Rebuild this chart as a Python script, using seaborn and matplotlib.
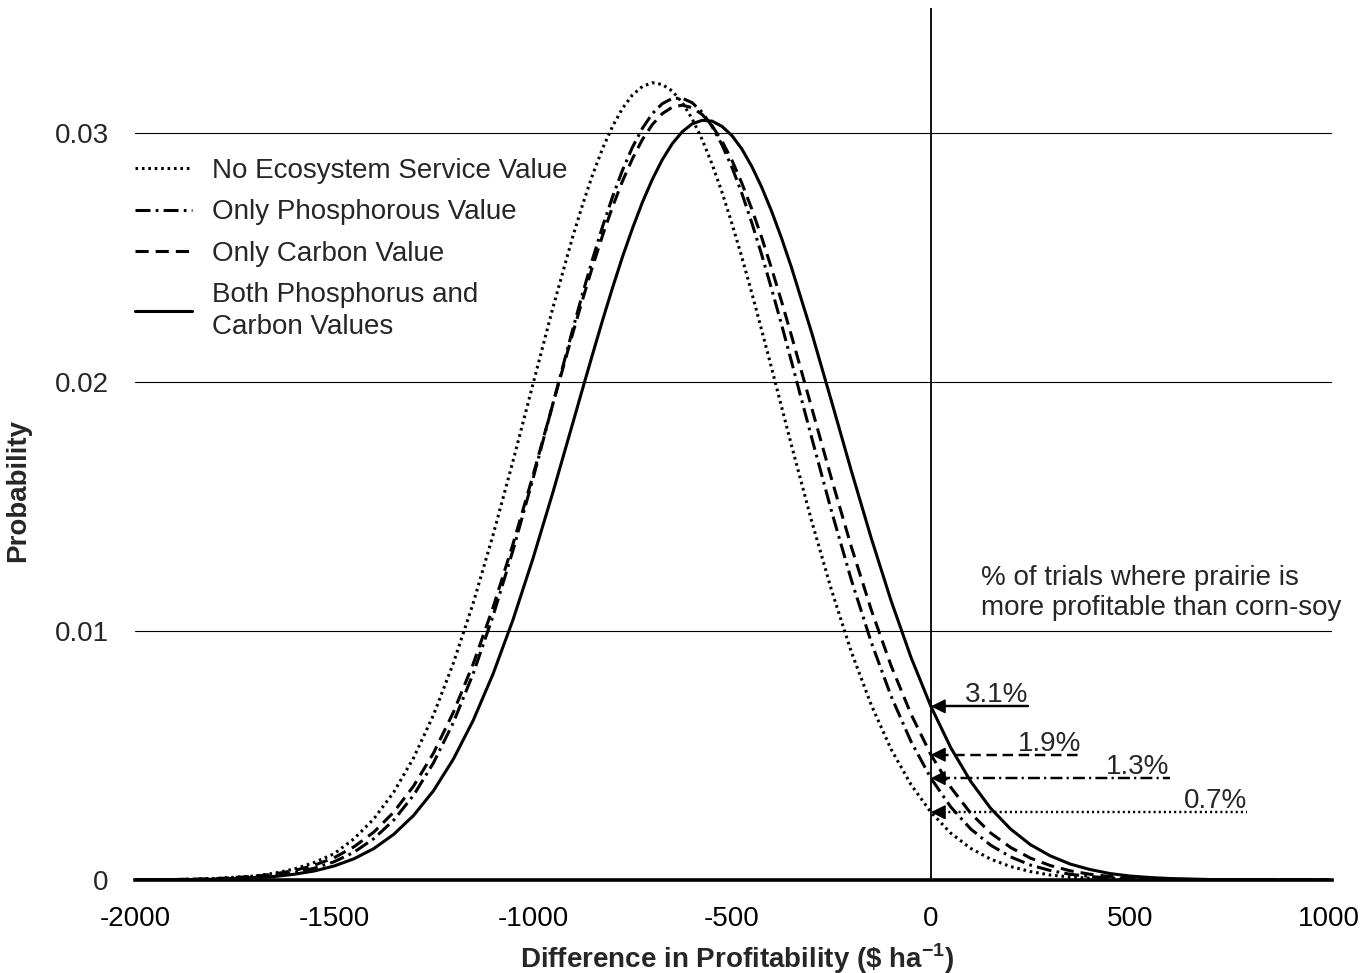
import numpy as np
import pandas as pd
import matplotlib
matplotlib.use("Agg")
import matplotlib.pyplot as plt
import seaborn as sns

# values
profit_diff = [-2000, -1900, -1800, -1700, -1650, -1600, -1550, -1500, -1450, -1400,
               -1350, -1300, -1250, -1200, -1150, -1100, -1050, -1000, -950, -900,
               -875, -850, -825, -800, -775, -750, -725, -700, -675, -650,
               -625, -600, -575, -550, -525, -500, -475, -450, -425, -400,
               -375, -350, -300, -250, -200, -150, -100, -50, 0, 50,
               100, 150, 200, 250, 300, 350, 400, 450, 500, 550,
               600, 700, 800, 900, 1000]

no_es = [0.00000, 0.00002, 0.00006, 0.00016, 0.00027, 0.00044, 0.00070, 0.00105, 0.00165, 0.00245,
         0.00352, 0.00490, 0.00662, 0.00870, 0.01112, 0.01386, 0.01682, 0.01990, 0.02296, 0.02582,
         0.02712, 0.02831, 0.02936, 0.03025, 0.03097, 0.03151, 0.03185, 0.03200, 0.03193, 0.03167,
         0.03121, 0.03056, 0.02973, 0.02874, 0.02761, 0.02635, 0.02500, 0.02356, 0.02206, 0.02053,
         0.01898, 0.01743, 0.01443, 0.01165, 0.00916, 0.00703, 0.00525, 0.00383, 0.00272, 0.00188,
         0.00127, 0.00084, 0.00054, 0.00034, 0.00020, 0.00012, 0.00007, 0.00004, 0.00002, 0.00001,
         0.00000, 0.00000, 0.00000, 0.00000, 0.00000]

only_p = [0.00000, 0.00001, 0.00003, 0.00010, 0.00018, 0.00029, 0.00047, 0.00073, 0.00111, 0.00166,
          0.00240, 0.00340, 0.00470, 0.00632, 0.00829, 0.01061, 0.01324, 0.01610, 0.01911, 0.02210,
          0.02355, 0.02493, 0.02623, 0.02742, 0.02849, 0.02941, 0.03017, 0.03076, 0.03116, 0.03137,
          0.03138, 0.03120, 0.03082, 0.03025, 0.02951, 0.02861, 0.02756, 0.02638, 0.02509, 0.02371,
          0.02228, 0.02079, 0.01778, 0.01482, 0.01205, 0.00955, 0.00738, 0.00556, 0.00409, 0.00293,
          0.00205, 0.00140, 0.00093, 0.00060, 0.00038, 0.00023, 0.00014, 0.00008, 0.00005, 0.00003,
          0.00001, 0.00000, 0.00000, 0.00000, 0.00000]

only_c = [0.00000, 0.00002, 0.00005, 0.00015, 0.00024, 0.00038, 0.00059, 0.00089, 0.00133, 0.00192,
          0.00272, 0.00377, 0.00509, 0.00673, 0.00868, 0.01095, 0.01349, 0.01623, 0.01910, 0.02194,
          0.02331, 0.02463, 0.02587, 0.02702, 0.02805, 0.02895, 0.02972, 0.03032, 0.03076, 0.03102,
          0.03110, 0.03100, 0.03073, 0.03028, 0.02966, 0.02889, 0.02797, 0.02693, 0.02578, 0.02453,
          0.02321, 0.02183, 0.01898, 0.01612, 0.01338, 0.01085, 0.00860, 0.00666, 0.00503, 0.00372,
          0.00268, 0.00189, 0.00131, 0.00088, 0.00058, 0.00037, 0.00023, 0.00014, 0.00009, 0.00005,
          0.00003, 0.00001, 0.00000, 0.00000, 0.00000]

both = [0.00000, 0.00001, 0.00003, 0.00008, 0.00014, 0.00023, 0.00036, 0.00056, 0.00085, 0.00126,
        0.00183, 0.00259, 0.00358, 0.00485, 0.00641, 0.00828, 0.01045, 0.01290, 0.01555, 0.01833,
        0.01973, 0.02111, 0.02247, 0.02377, 0.02501, 0.02615, 0.02720, 0.02812, 0.02891, 0.02955,
        0.03003, 0.03035, 0.03049, 0.03046, 0.03025, 0.02988, 0.02934, 0.02864, 0.02780, 0.02683,
        0.02575, 0.02457, 0.02199, 0.01923, 0.01643, 0.01373, 0.01121, 0.00894, 0.00697, 0.00531,
        0.00396, 0.00288, 0.00205, 0.00142, 0.00097, 0.00064, 0.00042, 0.00026, 0.00016, 0.00010,
        0.00006, 0.00002, 0.00001, 0.00000, 0.00000]

series_names = ["No Ecosystem Service Value", "Only Phosphorous Value",
                "Only Carbon Value", "Both Phosphorus and\nCarbon Values"]
pct_labels = ["0.7%", "1.3%", "1.9%", "3.1%"]
pct_line_end = [795, 600, 378, 245]

x_ticks = [-2000, -1500, -1000, -500, 0, 500, 1000]
y_ticks = [0, 0.01, 0.02, 0.03]
y_tick_labels = ["0", "0.01", "0.02", "0.03"]

sns.set_style("white")
plt.rcParams["font.family"] = ["Liberation Sans", "DejaVu Sans"]
plt.rcParams["axes.unicode_minus"] = False
plt.rcParams["mathtext.fontset"] = "custom"
plt.rcParams["mathtext.rm"] = "Liberation Sans"
plt.rcParams["mathtext.bf"] = "Liberation Sans:bold"

FS = 20
LW = 2.2
styles = [(0, (0.85, 1.25)), (0, (4.9, 1.7, 0.9, 1.7)), (0, (4.3, 2.3)), "-"]

fig = plt.figure(figsize=(13.62, 9.73), dpi=100)
ax = fig.add_axes([135 / 1362, 1 - 880 / 973, 1197 / 1362, 872 / 973])

df = pd.DataFrame({"x": profit_diff, "no_es": no_es, "only_p": only_p,
                   "only_c": only_c, "both": both})
cols = ["no_es", "only_p", "only_c", "both"]

handles = []
for col, name, ls in zip(cols, series_names, styles):
    sns.lineplot(data=df, x="x", y=col, ax=ax, color="black", lw=LW,
                 linestyle=ls, errorbar=None, label=name)
    ln = ax.lines[-1]
    ln.set_dash_capstyle("butt")
    handles.append(ln)

# zero line
ax.axvline(0, color="black", lw=1.3, zorder=1)

# percent annotations at x = 0
i0 = profit_diff.index(0)
for col, lab, xend, ls in zip(cols, pct_labels, pct_line_end, styles):
    y0 = df[col].iloc[i0]
    ax.plot([18, xend], [y0, y0], color="black", lw=LW * 0.8, linestyle=ls,
            dash_capstyle="butt")
    ax.annotate("", xy=(0, y0), xytext=(30, y0),
                arrowprops=dict(arrowstyle="-|>", color="black", lw=1.2,
                                mutation_scale=22, shrinkA=0, shrinkB=0))
    ax.text(xend, y0 + 0.00016, lab, ha="right", va="baseline", fontsize=FS)

ax.text(125, 0.01152, "% of trials where prairie is\nmore profitable than corn-soy",
        ha="left", va="center", fontsize=FS, linespacing=1.2)

ax.set_xlim(-2000, 1008)
ax.set_ylim(0, 0.035)
ax.set_xticks(x_ticks)
ax.set_yticks(y_ticks)
ax.set_yticklabels(y_tick_labels)
ax.tick_params(axis="x", length=7, width=2, direction="out", pad=12, labelsize=FS, colors="black")
ax.tick_params(axis="y", length=0, pad=19, labelsize=FS)
ax.yaxis.grid(True, color="black", lw=0.8)
ax.xaxis.grid(False)
ax.set_axisbelow(True)

for s in ["top", "right", "left"]:
    ax.spines[s].set_visible(False)
ax.spines["bottom"].set_linewidth(2.6)
ax.spines["bottom"].set_color("black")
ax.spines["bottom"].set_zorder(5)

ax.set_xlabel(r"Difference in Profitability (\$ ha$^{\mathbf{-1}}$)", fontsize=FS, fontweight="bold")
ax.set_ylabel("Probability", fontsize=FS, fontweight="bold")
ax.xaxis.set_label_coords(0.503, -0.070)
ax.yaxis.set_label_coords(-0.087, 0.447)

leg = ax.legend(handles=handles, labels=series_names, loc="upper left",
                bbox_to_anchor=(0.0, 0.828), frameon=False, fontsize=FS,
                handlelength=2.05, handletextpad=0.72, labelspacing=0.55,
                borderaxespad=0, borderpad=0)
for t in leg.get_texts():
    t.set_linespacing(1.3)

fig.savefig("out.png", dpi=100)
